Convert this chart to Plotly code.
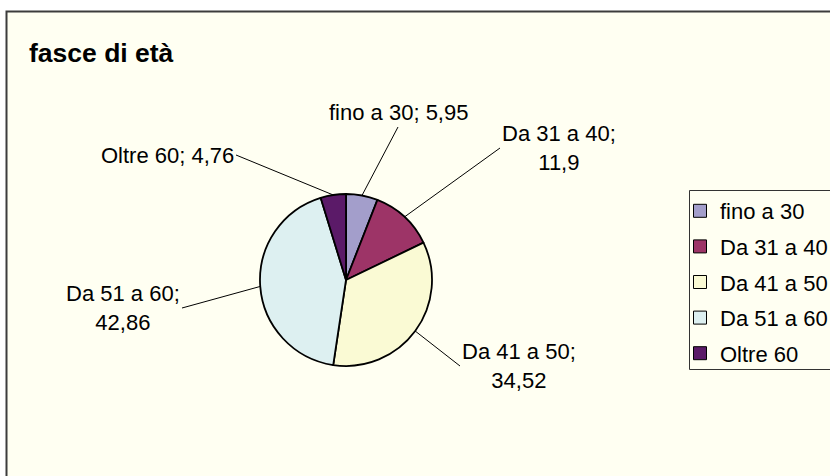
import numpy as np
import plotly.graph_objects as go

# age bands and their share (%)
labels = ["fino a 30", "Da 31 a 40", "Da 41 a 50", "Da 51 a 60", "Oltre 60"]
values = [5.95, 11.9, 34.52, 42.86, 4.76]
colors = ["#A39ECB", "#9D3467", "#FAFAD4", "#DDF0F1", "#5B1A68"]

W, H = 830, 476
FONT = "Liberation Sans, Arial, sans-serif"
CREAM = "#FFFFF2"

# pie geometry in pixels
CX, CY, R = 346, 280, 86

# where each data label sits: tail of leader (px), anchor, wrapped?
label_place = [
    (398, 127, "center", "bottom", False),
    (500, 148, "left", "middle", True),
    (460, 366, "left", "middle", True),
    (182, 308, "right", "middle", True),
    (236, 155, "right", "middle", False),
]


def fmt(v):
    return f"{v:g}".replace(".", ",")


fig = go.Figure()

fig.add_trace(go.Pie(
    labels=labels,
    values=values,
    sort=False,
    direction="clockwise",
    rotation=0,
    textinfo="none",
    hoverinfo="label+value",
    showlegend=False,
    marker=dict(colors=colors, line=dict(color="black", width=1.8)),
    domain=dict(x=[(CX - R) / W, (CX + R) / W],
                y=[1 - (CY + R) / H, 1 - (CY - R) / H]),
))

# legend entries (one group each so the spacing can be opened up)
for i, (lab, col) in enumerate(zip(labels, colors)):
    fig.add_trace(go.Scatter(
        x=[None], y=[None], mode="markers", name=lab, legendgroup=str(i),
        marker=dict(symbol="square", size=13, color=col,
                    line=dict(color="black", width=1)),
        hoverinfo="skip",
    ))

# data labels with leader lines pointing at slice mid-angles
vals = np.array(values)
mids = (np.cumsum(vals) - vals / 2) / vals.sum()
annotations = []
for lab, v, m, (tx, ty, xa, ya, wrap) in zip(labels, values, mids, label_place):
    theta = 2 * np.pi * m
    hx = CX + R * np.sin(theta)
    hy = CY - R * np.cos(theta)
    sep = ";<br>" if wrap else "; "
    annotations.append(dict(
        text=f"{lab}{sep}{fmt(v)}",
        x=hx / W, y=1 - hy / H, xref="paper", yref="paper",
        ax=tx - hx, ay=ty - hy,
        xanchor=xa, yanchor=ya, align="center",
        showarrow=True, arrowhead=0, arrowwidth=1, arrowcolor="black",
        font=dict(family=FONT, size=22, color="black"),
    ))

annotations.append(dict(
    text="<b>fasce di età</b>",
    x=27 / W, y=1 - 53 / H, xref="paper", yref="paper",
    xanchor="left", yanchor="middle", showarrow=False,
    font=dict(family=FONT, size=26.5, color="black"),
))

fig.update_layout(
    width=W, height=H,
    margin=dict(l=0, r=0, t=0, b=0, autoexpand=False),
    paper_bgcolor="white",
    plot_bgcolor="rgba(0,0,0,0)",
    xaxis=dict(visible=False),
    yaxis=dict(visible=False),
    annotations=annotations,
    shapes=[
        dict(type="rect", xref="paper", yref="paper",
             x0=6.5 / W, x1=1.05, y0=-0.05, y1=1 - 11.5 / H,
             fillcolor=CREAM, line=dict(color="#3C3C3C", width=2), layer="below"),
        dict(type="rect", xref="paper", yref="paper",
             x0=689.5 / W, x1=1.05, y0=1 - 369.5 / H, y1=1 - 190.5 / H,
             line=dict(color="#333333", width=1), layer="above"),
    ],
    legend=dict(
        x=680 / W, y=1 - 190 / H, xanchor="left", yanchor="top",
        font=dict(family=FONT, size=22, color="black"),
        bgcolor="rgba(0,0,0,0)", borderwidth=0,
        tracegroupgap=4, traceorder="grouped",
    ),
)

fig.write_html("out.html", config={"displayModeBar": False},
               post_script="document.body.style.margin='0';")
